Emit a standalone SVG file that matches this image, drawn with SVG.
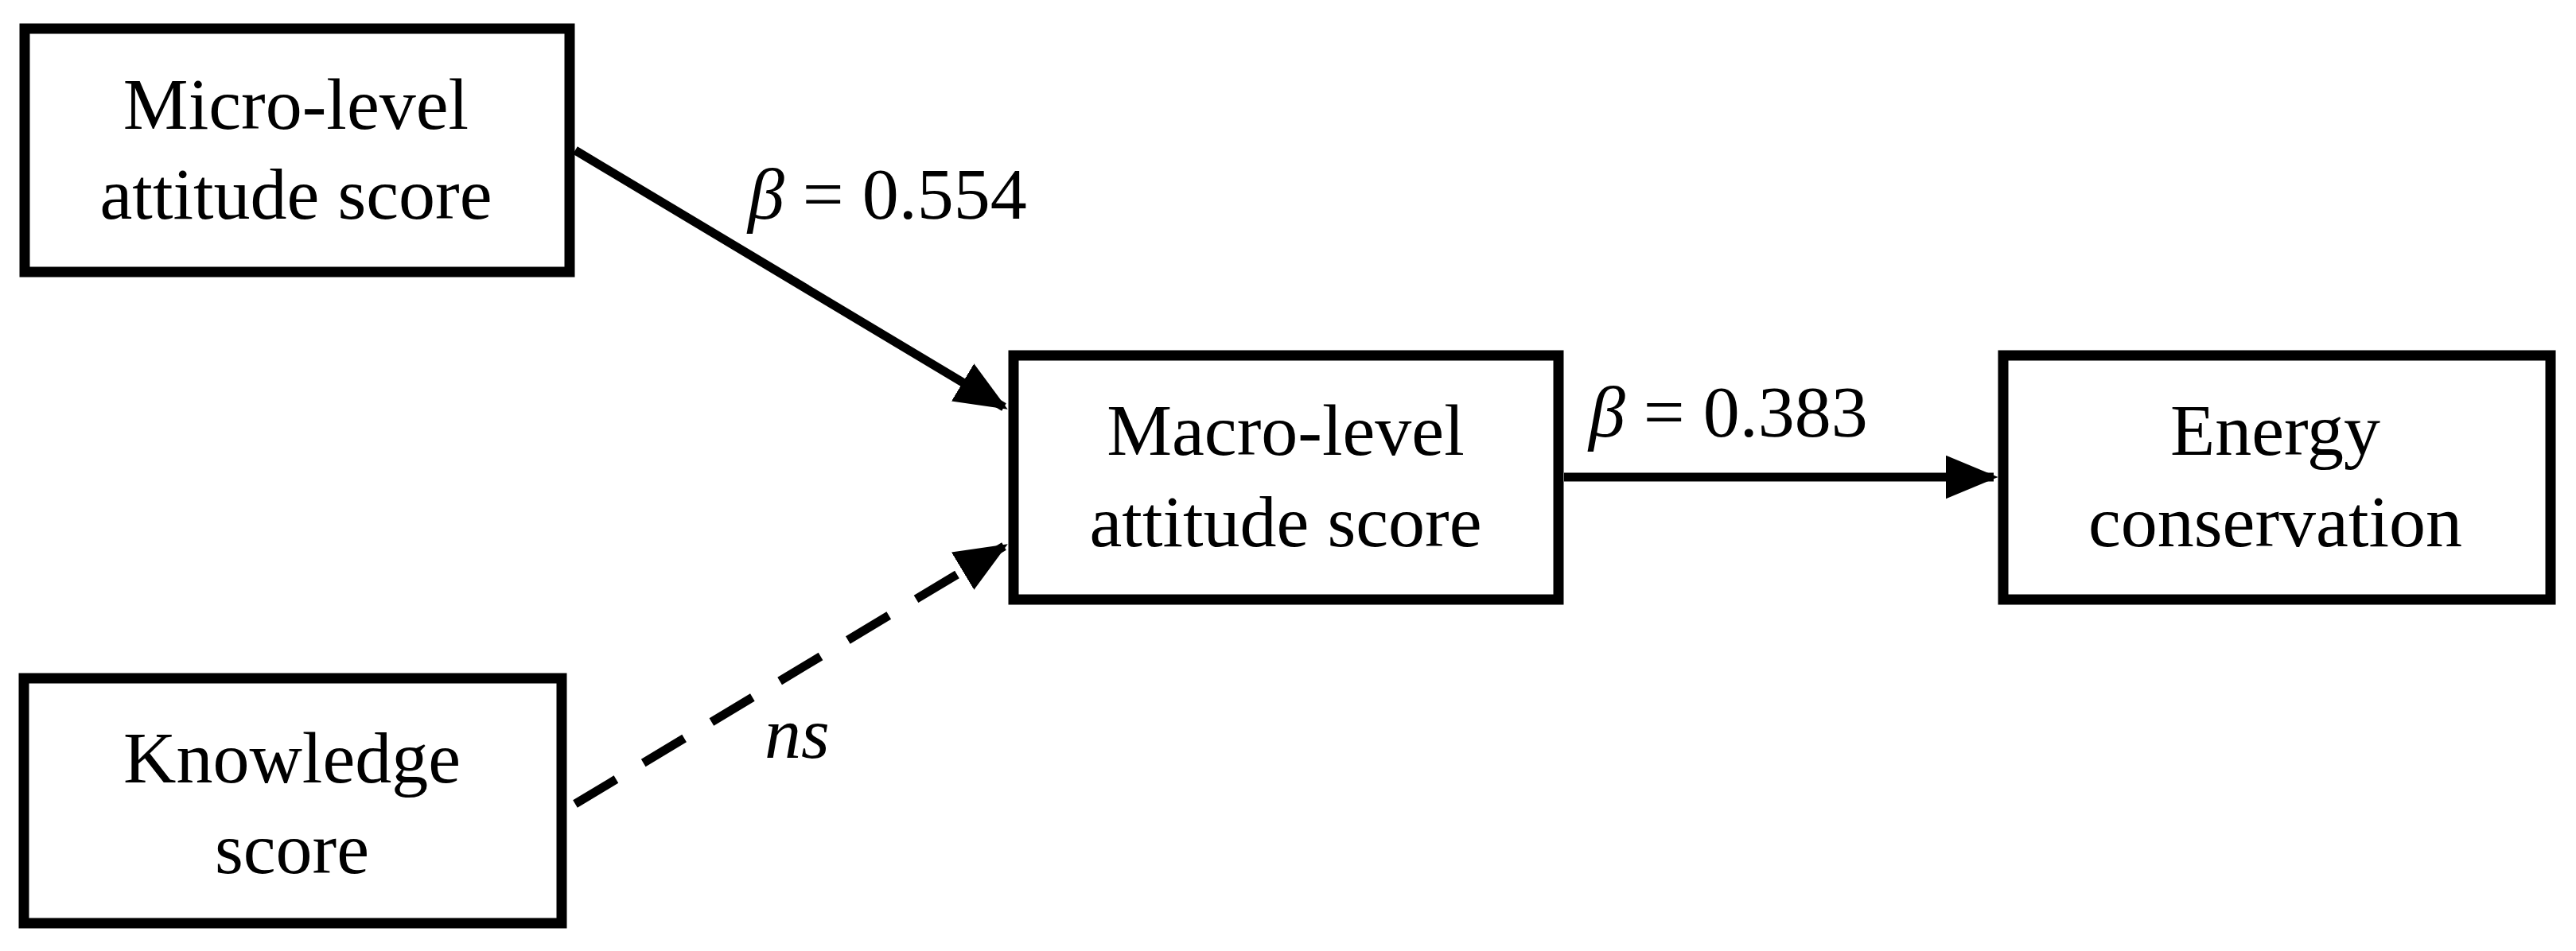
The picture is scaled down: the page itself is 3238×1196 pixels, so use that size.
<svg xmlns="http://www.w3.org/2000/svg" width="3238" height="1196" viewBox="0 0 3238 1196">
<style>
.box{fill:#fff;stroke:#000;stroke-width:13}
.t{font-family:"Liberation Serif",serif;font-size:92px;fill:#000;text-anchor:middle}
.l{font-family:"Liberation Serif",serif;font-size:92px;fill:#000}
.e{stroke:#000;stroke-width:11;fill:none}
</style>
<defs>
<marker id="ah" markerWidth="6" markerHeight="5" refX="5.5" refY="2.5" orient="auto" markerUnits="strokeWidth">
<polygon points="0,0 6,2.5 0,5" fill="#000"/>
</marker>
</defs>
<rect width="3238" height="1196" fill="#fff"/>
<g id="connectors">
<line class="e" x1="723" y1="189" x2="1262" y2="512" marker-end="url(#ah)"/>
<line class="e" x1="723" y1="1011" x2="1262" y2="687" stroke-dasharray="60,40" marker-end="url(#ah)"/>
<line class="e" x1="1966" y1="600" x2="2506" y2="600" marker-end="url(#ah)"/>
<text class="l" x="940" y="275"><tspan font-style="italic">β</tspan> = 0.554</text>
<text class="l" x="1997" y="549"><tspan font-style="italic">β</tspan> = 0.383</text>
<text class="l" x="961" y="953" font-style="italic">ns</text>
</g>
<g id="micro">
<rect class="box" x="31" y="36" width="685" height="306"/>
<text class="t" x="372" y="162">Micro-level</text>
<text class="t" x="372" y="275">attitude score</text>
</g>
<g id="knowledge">
<rect class="box" x="30" y="853" width="676" height="308"/>
<text class="t" x="367" y="984">Knowledge</text>
<text class="t" x="367" y="1098">score</text>
</g>
<g id="macro">
<rect class="box" x="1274" y="447" width="685" height="307"/>
<text class="t" x="1616" y="572">Macro-level</text>
<text class="t" x="1616" y="687">attitude score</text>
</g>
<g id="energy">
<rect class="box" x="2518" y="447" width="688" height="307"/>
<text class="t" x="2860" y="572">Energy</text>
<text class="t" x="2860" y="687">conservation</text>
</g>
</svg>
